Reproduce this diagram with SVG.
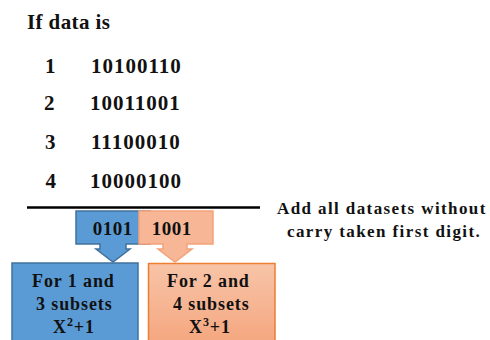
<svg xmlns="http://www.w3.org/2000/svg" width="490" height="340" viewBox="0 0 490 340">
  <defs>
    <linearGradient id="peach" x1="0" y1="0" x2="0" y2="1">
      <stop offset="0" stop-color="#f8c4a8"/>
      <stop offset="1" stop-color="#f4a67e"/>
    </linearGradient>
    <style>
      text { font-family: 'Liberation Serif', serif; font-weight: bold; fill: #111; }
      .big { font-size: 21px; }
      .digits { font-size: 21px; letter-spacing: 1px; }
      .note { font-size: 17px; letter-spacing: 1.4px; }
      .code { font-size: 19px; letter-spacing: 0.5px; }
      .lbl { font-size: 18px; letter-spacing: 0.9px; }
      .blue { fill: #5b9bd5; stroke: #41719c; stroke-width: 1.5; }
      .peachcall { fill: #f7b797; stroke: #f3a27a; stroke-width: 1.5; }
      .peachbox { fill: url(#peach); stroke: #ed7d31; stroke-width: 1.5; }
    </style>
  </defs>

  <!-- data listing -->
  <g id="title">
    <text class="big" x="27" y="29" letter-spacing="0.4">If data is</text>
  </g>
  <g id="data-rows">
    <text class="big" x="45" y="73">1</text>
    <text class="digits" x="91" y="73">10100110</text>
    <text class="big" x="44" y="110">2</text>
    <text class="digits" x="90" y="110">10011001</text>
    <text class="big" x="45" y="149">3</text>
    <text class="digits" x="91" y="149">11100010</text>
    <text class="big" x="45.5" y="188">4</text>
    <text class="digits" x="90" y="188">10000100</text>
  </g>

  <!-- sum rule -->
  <g id="sum-line">
    <line x1="27" y1="207.5" x2="260" y2="207.5" stroke="#000" stroke-width="2.6"/>
  </g>
  <g id="note">
    <text class="note" x="277" y="214">Add all datasets without</text>
    <text class="note" x="287" y="237" letter-spacing="1.25">carry taken first digit.</text>
  </g>

  <!-- result boxes -->
  <g id="box-odd">
    <rect class="blue" x="12" y="263" width="126" height="82"/>
    <text class="lbl" x="32" y="287">For 1 and</text>
    <text class="lbl" x="36" y="310">3 subsets</text>
    <text class="lbl" x="53" y="333">X<tspan font-size="12" dy="-7">2</tspan><tspan dy="7">+1</tspan></text>
  </g>
  <g id="box-even">
    <rect class="peachbox" x="148.5" y="263.5" width="126.5" height="82"/>
    <text class="lbl" x="167" y="287">For 2 and</text>
    <text class="lbl" x="173" y="310">4 subsets</text>
    <text class="lbl" x="189" y="333">X<tspan font-size="12" dy="-7">3</tspan><tspan dy="7">+1</tspan></text>
  </g>

  <!-- down-arrow callouts -->
  <g id="connectors">
    <g id="callout-odd">
      <path class="blue" d="M76,211 H150 V244 H126 V249 H130 L113,262 L96,249 H100 V244 H76 Z"/>
      <text class="code" x="92.7" y="235">0101</text>
    </g>
    <g id="callout-even">
      <path class="peachcall" d="M139,211 H213 V244 H187 V249 H192 L175,262 L158,249 H163 V244 H139 Z"/>
      <text class="code" x="151.7" y="235">1001</text>
    </g>
  </g>
</svg>
